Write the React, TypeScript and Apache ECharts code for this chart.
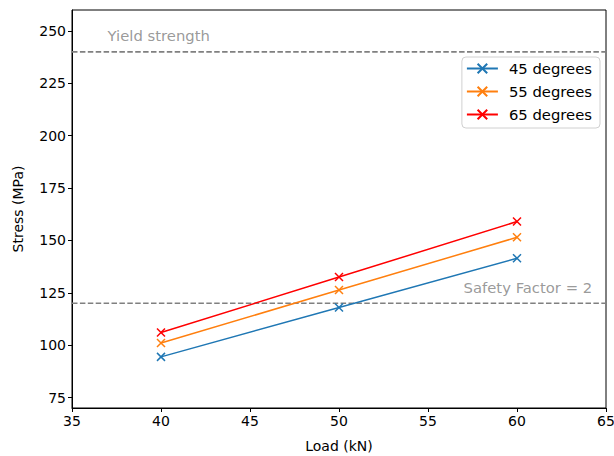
import React, { useEffect, useRef } from "react";
import * as echarts from "echarts";

const loads = [40, 50, 60];
const stress45 = [94.4, 118.0, 141.5];
const stress55 = [101.0, 126.3, 151.5];
const stress65 = [106.0, 132.5, 159.0];
const seriesNames = ["45 degrees", "55 degrees", "65 degrees"];
const seriesColors = ["#1f77b4", "#ff7f0e", "#ff0000"];
const yieldStrength = 240;
const safetyStress = 120;
const yieldLabel = "Yield strength";
const safetyLabel = "Safety Factor = 2";
const yieldLabelX = 37;
const safetyLabelX = 57;
const yTicks = [75, 100, 125, 150, 175, 200, 225, 250];

const FONT = "DejaVu Sans";
const XMARK = "path://M0,0L10,10M10,0L0,10";

export default function App() {
  const ref = useRef<HTMLDivElement>(null);
  useEffect(() => {
    if (!ref.current) return;
    const chart = echarts.init(ref.current, undefined, { renderer: "svg" });
    const allData = [stress45, stress55, stress65];
    const dataSeries = allData.map((vals, i) => ({
      name: seriesNames[i],
      type: "line",
      data: loads.map((x, j) => [x, vals[j]]),
      symbol: XMARK,
      symbolSize: 8,
      showSymbol: true,
      lineStyle: { color: seriesColors[i], width: 1.5 },
      itemStyle: { color: seriesColors[i], borderColor: seriesColors[i], borderWidth: 1.5 },
      z: 3,
    }));
    const refLine = (y: number) => ({
      type: "line",
      data: [[35, y], [65, y]],
      symbol: "none",
      lineStyle: { color: "#808080", width: 1.6, type: [5.5, 2.4] },
      silent: true,
      z: 2,
    });
    const textPoint = (x: number, y: number, text: string, dy: number) => ({
      type: "scatter",
      data: [[x, y]],
      symbolSize: 0,
      silent: true,
      label: {
        show: true,
        formatter: text,
        position: "right",
        distance: 0,
        offset: [0, dy],
        color: "#808080",
        fontSize: 14.8,
        fontFamily: FONT,
      },
    });
    chart.setOption({
      animation: false,
      backgroundColor: "#fff",
      textStyle: { fontFamily: FONT },
      grid: {
        left: 72,
        right: 8,
        top: 10,
        bottom: 48,
        outerBoundsMode: "none",
        containLabel: false,
        show: true,
        borderColor: "#000",
        borderWidth: 1,
      },
      legend: {
        data: seriesNames,
        orient: "vertical",
        right: 14,
        top: 57,
        itemWidth: 31,
        itemHeight: 12,
        itemGap: 8,
        padding: [4, 8, 6, 4],
        backgroundColor: "#fff",
        borderColor: "#d0d0d0",
        borderWidth: 1,
        borderRadius: 4,
        textStyle: { fontSize: 14.8, fontFamily: FONT, color: "#000", padding: [0, 0, 0, 6] },
      },
      xAxis: {
        type: "value",
        min: 35,
        max: 65,
        interval: 5,
        name: "Load (kN)",
        nameLocation: "middle",
        nameGap: 31,
        nameTextStyle: { fontSize: 14, color: "#000", fontFamily: FONT },
        axisLine: { show: true, lineStyle: { color: "#000" } },
        axisTick: { show: true, length: 4, lineStyle: { color: "#000" } },
        axisLabel: { color: "#000", fontSize: 14, margin: 6, fontFamily: FONT },
        splitLine: { show: false },
      },
      yAxis: {
        type: "value",
        min: 70,
        max: 260,
        name: "Stress (MPa)",
        nameLocation: "middle",
        nameGap: 47,
        nameTextStyle: { fontSize: 14, color: "#000", fontFamily: FONT },
        axisLine: { show: true, lineStyle: { color: "#000" } },
        axisTick: { show: true, length: 4, customValues: yTicks, lineStyle: { color: "#000" } },
        axisLabel: { color: "#000", fontSize: 14, margin: 6, customValues: yTicks, fontFamily: FONT },
        splitLine: { show: false },
      },
      series: [
        refLine(yieldStrength),
        refLine(safetyStress),
        textPoint(yieldLabelX, yieldStrength, yieldLabel, -16),
        textPoint(safetyLabelX, safetyStress, safetyLabel, -16),
        ...dataSeries,
      ],
    });
    return () => chart.dispose();
  }, []);
  return (
    <div
      ref={ref}
      style={{ position: "fixed", left: 0, top: 0, width: 614, height: 456 }}
    />
  );
}
